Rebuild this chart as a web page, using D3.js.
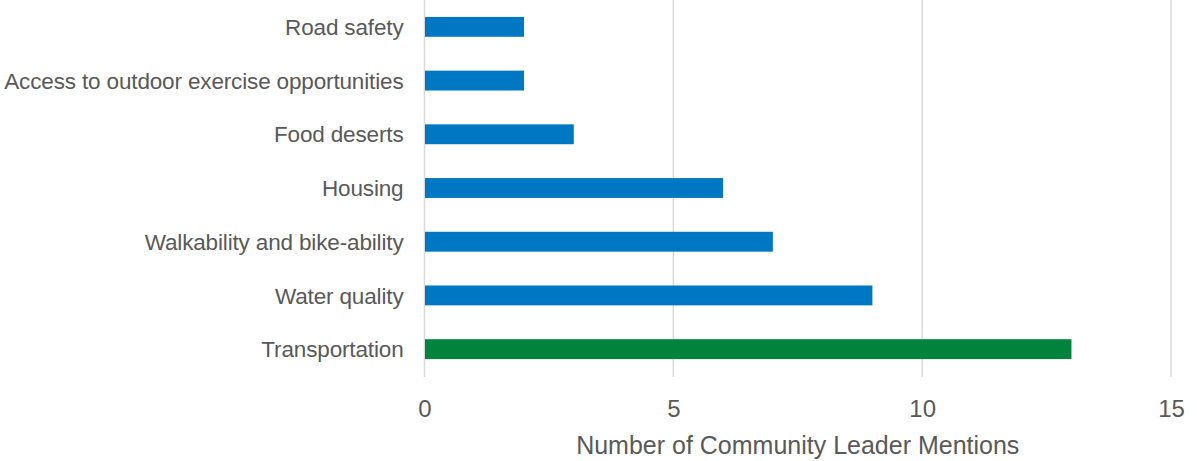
<!DOCTYPE html>
<html>
<head>
<meta charset="utf-8">
<script src="https://cdn.jsdelivr.net/npm/d3@7"></script>
<style>
  html, body { margin: 0; padding: 0; background: #fff; }
  svg text { font-family: "Liberation Sans", Arial, sans-serif; fill: #595959; }
</style>
</head>
<body>
<svg id="chart" width="1197" height="461"></svg>
<script>
const categories = ["Road safety", "Access to outdoor exercise opportunities", "Food deserts", "Housing", "Walkability and bike-ability", "Water quality", "Transportation"];
const values = [2, 2, 3, 6, 7, 9, 13];
const barColors = ["#0077C3", "#0077C3", "#0077C3", "#0077C3", "#0077C3", "#0077C3", "#00843D"];
const xTicks = [0, 5, 10, 15];
const xTitle = "Number of Community Leader Mentions";

const svg = d3.select("#chart");
const x = d3.scaleLinear().domain([0, 15]).range([424.5, 1171]);
const y = d3.scaleBand().domain(categories).range([0, 376]).paddingInner(0.63).paddingOuter(0.315);

// gridlines
svg.append("g").selectAll("line").data(xTicks).join("line")
  .attr("x1", d => x(d)).attr("x2", d => x(d))
  .attr("y1", 0).attr("y2", 377)
  .attr("stroke", "#d9d9d9").attr("stroke-width", 1.5);

// bars
svg.append("g").selectAll("rect").data(categories).join("rect")
  .attr("x", x(0) + 0.5)
  .attr("y", d => y(d))
  .attr("width", (d, i) => x(values[i]) - x(0) - 0.5)
  .attr("height", y.bandwidth())
  .attr("fill", (d, i) => barColors[i]);

// category labels
svg.append("g").selectAll("text").data(categories).join("text")
  .attr("x", x(0) - 21)
  .attr("y", d => y(d) + y.bandwidth() / 2)
  .attr("dy", "0.36em")
  .attr("text-anchor", "end")
  .attr("font-size", 22.5)
  .attr("letter-spacing", -0.15)
  .text(d => d);

// x axis tick labels
const xAxis = d3.axisBottom(x).tickValues(xTicks).tickSize(0).tickPadding(0);
const gx = svg.append("g").attr("transform", "translate(0,417)").call(xAxis);
gx.select(".domain").remove();
gx.selectAll("text").attr("font-size", 24).attr("dy", 0)
  .style("font-family", "Liberation Sans, Arial, sans-serif").style("fill", "#595959");

// axis title
svg.append("text")
  .attr("x", (x(0) + x(15)) / 2)
  .attr("y", 454)
  .attr("text-anchor", "middle")
  .attr("font-size", 25)
  .text(xTitle);
</script>
</body>
</html>
